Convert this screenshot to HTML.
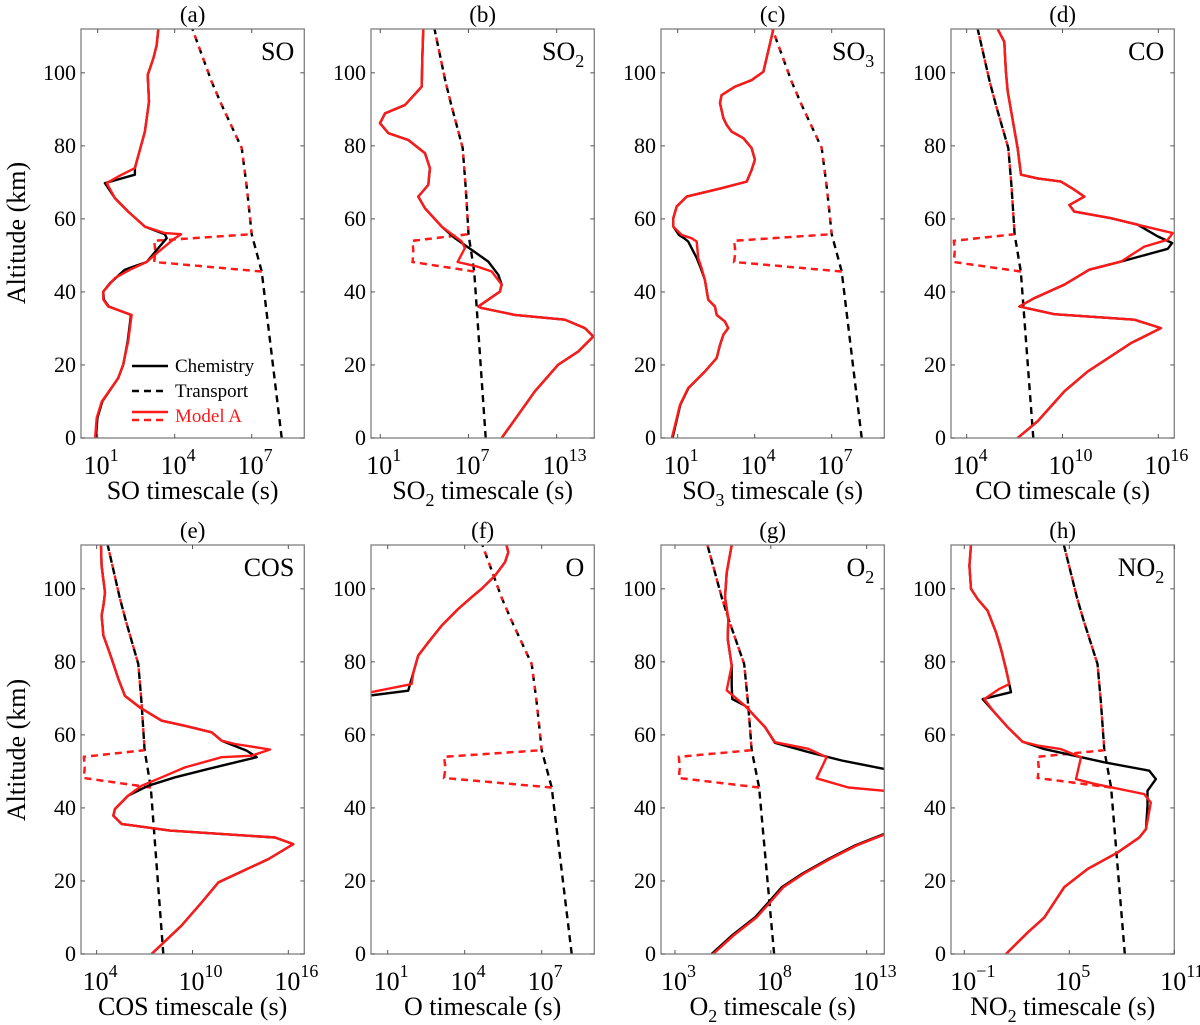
<!DOCTYPE html>
<html><head><meta charset="utf-8"><style>
body{margin:0;background:#fff}
svg{display:block;font-family:"Liberation Serif",serif}
</style></head><body>
<svg id="fig" width="1200" height="1025" viewBox="0 0 1200 1025" xmlns="http://www.w3.org/2000/svg"></svg>
<script>
// shared transport profiles (log10 s)
const tAlt=[0,45.6,55.8,64.8,69.3,79.4,91.2,97.6,112];
const tLog=[8.17,7.39,7.0,6.87,6.80,6.61,5.83,5.44,4.69];
const mtAlt=[45.6,48.2,51,54,55.8,64.8,69.3,79.4,91.2,97.6,112];
const mtLog=[7.39,3.2,3.25,3.2,7.0,6.87,6.80,6.61,5.83,5.44,4.69];

const aModAlt=[0,5.5,10,16.4,20.1,26.5,33.7,36,37.9,40.1,43.8,46.1,48.2,50.2,54.7,55.8,56.1,57.9,62,65.7,69.8,71.6,73.9,83.9,92.1,99.4,104,107.6,112];
const aModLog=[0.90,0.96,1.16,1.80,1.99,2.19,2.32,1.41,1.22,1.22,1.67,2.26,2.91,3.23,4.01,4.25,3.62,2.84,2.19,1.67,1.35,1.80,2.45,2.84,3.0,2.95,3.17,3.30,3.36];
const aChemAlt=[0,5.5,10,16.4,20.1,26.5,33.7,36,37.9,40.1,42.4,46.1,48.2,52,54.7,55.8,57.9,62,65.7,69.8,72.1,73.9,83.9,92.1,99.4,104,107.6,112];
const aChemLog=[0.93,0.99,1.18,1.80,2.0,2.17,2.30,1.43,1.24,1.22,1.48,2.06,2.91,3.36,3.69,3.62,2.84,2.19,1.67,1.28,2.45,2.45,2.84,3.0,2.95,3.17,3.30,3.36];

const bModAlt=[0,12.8,20.1,23.7,27.8,30.1,32.4,33.7,35.6,36,37.9,40.1,42,45.6,47,48.2,52,53.8,57.9,62.9,66.1,69.3,73.9,78,81.6,83.5,86.2,88.9,91.2,96.2,104,112];
const bModLog=[9.26,11.52,13.11,14.47,15.49,14.92,13.56,10.16,7.90,7.67,8.35,9.14,9.26,8.58,7.56,6.26,6.76,6.54,5.18,4.04,3.59,4.27,4.38,4.04,2.91,1.55,0.98,1.32,2.68,3.82,3.86,3.93];
const bChemAlt=[0,12.8,20.1,23.7,27.8,30.1,32.4,33.7,35.6,36,37.9,40.1,42,44.7,48.3,51.5,54.7,57.9,62.9,66.1,69.3,73.9,78,81.6,83.5,86.2,88.9,91.2,96.2,104,112];
const bChemLog=[9.26,11.52,13.11,14.47,15.49,14.92,13.56,10.16,7.90,7.67,8.35,9.14,9.26,9.03,8.35,7.22,6.08,5.18,4.04,3.59,4.27,4.38,4.04,2.91,1.55,0.98,1.32,2.68,3.82,3.86,3.93];

const cModAlt=[0,3.6,9.1,13.7,18.2,21.9,25.5,28.3,30.1,31.9,33.7,36,37.9,43.3,46.5,49.3,53.8,54.7,55.6,57.9,60.2,63.4,66.1,68.4,70.2,73.4,76.2,79.4,82.1,83.9,85.7,87.6,91.7,93.9,96.2,98,100.3,112];
const cModLog=[0.77,0.90,1.09,1.41,2.06,2.52,2.65,2.78,2.97,2.84,2.52,2.45,2.19,2.06,1.93,1.80,1.74,1.54,1.16,0.83,0.83,0.96,1.35,2.71,3.69,3.88,4.01,3.88,3.56,3.10,2.91,2.78,2.65,2.71,3.23,3.88,4.34,4.73];
const cChemAlt=cModAlt;
const cChemLog=[0.80,0.92,1.10,1.42,2.06,2.52,2.65,2.78,2.97,2.84,2.52,2.45,2.19,2.06,1.90,1.74,1.41,1.25,1.05,0.83,0.83,0.96,1.35,2.71,3.69,3.88,4.01,3.88,3.56,3.10,2.91,2.78,2.65,2.71,3.23,3.88,4.34,4.73];

const dModAlt=[0,4.6,12.8,18.2,26,30.1,32.4,33.9,36,38.3,42,46.1,48.3,52.4,54.3,56.1,58.4,60.2,62,63.8,66.1,68,70.2,71.1,72.1,79.4,94.9,100.3,108.5,112];
const dModLog=[7.19,8.45,10.12,11.58,14.29,16.17,14.5,9.49,7.30,8.24,10.12,11.68,13.66,15.12,16.59,16.9,14.71,13.04,10.74,10.43,11.37,10.74,9.91,8.45,7.40,7.19,6.57,6.46,6.36,5.94];
const dChemAlt=[0,4.6,12.8,18.2,26,30.1,32.4,33.9,36,38.3,42,46.1,48.3,51.8,53.4,55.2,58.4,60.2,62,63.8,66.1,68,70.2,71.1,72.1,79.4,94.9,100.3,108.5,112];
const dChemLog=[7.19,8.45,10.12,11.58,14.29,16.17,14.5,9.49,7.30,8.24,10.12,11.68,13.66,16.59,16.86,15.96,14.71,13.04,10.74,10.43,11.37,10.74,9.91,8.45,7.40,7.19,6.57,6.46,6.36,5.94];

const eModAlt=[0,7.8,14.1,19.6,26,30.1,31.9,33.8,35.6,37.9,39.7,43.4,46.1,48.4,51.1,53.9,54.3,56,57.5,58.4,60.7,62.5,63.9,67.5,70.7,75.3,80.8,83.5,87.2,92.7,95.4,99,106.3,112];
const eModLog=[7.44,9.32,10.57,11.62,14.75,16.31,15.17,8.59,5.57,5.04,5.15,5.98,6.82,8.07,9.53,11.83,13.71,14.85,12.66,11.83,11.2,9.53,8.07,6.71,5.77,5.36,4.94,4.73,4.42,4.31,4.42,4.52,4.31,4.27];
const eChemAlt=[0,7.8,14.1,19.6,26,30.1,31.9,33.8,35.6,37.9,39.7,43.4,46.1,48.4,50.7,53.9,55.7,58.4,60.7,62.5,63.9,67.5,70.7,75.3,80.8,83.5,87.2,92.7,95.4,99,106.3,112];
const eChemLog=[7.44,9.32,10.57,11.62,14.75,16.31,15.17,8.59,5.57,5.04,5.15,5.98,7.24,8.91,10.99,14.02,13.39,11.83,11.2,9.53,8.07,6.71,5.77,5.36,4.94,4.73,4.42,4.31,4.42,4.52,4.31,4.27];

const fModAlt=[71.2,73.9,77.1,81.7,85.3,89.9,94.5,97.7,100,103.6,107.3,110,112];
const fModLog=[0.0,1.93,2.0,2.19,2.58,3.10,3.75,4.27,4.66,5.18,5.57,5.70,5.63];
const fChemAlt=[70.5,72.1,77.1,81.7,85.3,89.9,94.5,97.7,100,103.6,107.3,110,112];
const fChemLog=[0.0,1.80,2.0,2.19,2.58,3.10,3.75,4.27,4.66,5.18,5.57,5.70,5.63];

const gModAlt=[44.7,45.6,48.1,53.9,56.2,58,62.1,68,72.2,79,86.3,91.7,97.7,104.4,112];
const gModLog=[13.92,12.04,10.39,10.91,9.96,8.22,7.70,6.65,5.70,5.96,5.75,5.78,5.61,5.70,5.96];
const gChemAlt=[50.7,53,55.3,57.8,62.1,68,69.8,73.5,79,86.3,91.7,97.7,104.4,112];
const gChemLog=[13.92,11.7,9.96,8.22,7.70,6.65,5.99,5.96,5.96,5.75,5.78,5.61,5.70,5.96];
const gLowAlt=[0,5,10,14.1,18.3,21.9,26,29.7,32.9];
const gLowLog=[4.91,5.96,7.17,7.87,8.57,9.61,11.0,12.39,13.92];

const hModAlt=[0,5.9,10,18.3,23.3,27.8,31.9,34.2,41.5,43.8,46.6,47.9,53.9,56.1,57.1,58.1,62.1,66.2,69.8,72.6,73.9,78,83.5,88.1,94,97.2,100,106.3,112];
const hModLog=[1.38,2.62,3.57,4.71,6.05,7.76,9.0,9.38,9.66,9.28,6.43,5.38,5.67,4.52,3.19,2.33,1.48,0.72,0.14,1.0,1.57,1.38,1.10,0.81,0.33,-0.24,-0.62,-0.71,-0.62];
const hChemAlt=[0,5.9,10,18.3,23.3,27.8,31.9,34.2,40.6,44.7,47.9,50.2,52.5,56.1,58.1,62.1,66.2,69.8,71.7,73.9,78,83.5,88.1,94,97.2,100,106.3,112];
const hChemLog=[1.38,2.62,3.57,4.71,6.05,7.76,9.0,9.38,9.47,9.47,9.95,9.57,7.0,3.57,2.33,1.48,0.72,0.05,1.67,1.57,1.38,1.10,0.81,0.33,-0.24,-0.62,-0.71,-0.62];

const yTicks=[0,20,40,60,80,100];

const NS="http://www.w3.org/2000/svg";
const svg=document.getElementById('fig');
function mk(tag,attrs,parent){const e=document.createElementNS(NS,tag);for(const k in attrs)e.setAttribute(k,attrs[k]);(parent||svg).appendChild(e);return e;}

const W=223.3,H=409;
const panels=[
 {id:'a',L:81,T:29,lo:0.35,hi:9.05,ticks:[1,4,7],sp:['SO',''],xl:'SO',chem:[aChemAlt,aChemLog],mod:[aModAlt,aModLog]},
 {id:'b',L:371,T:29,lo:0.37,hi:15.56,ticks:[1,7,13],sp:['SO','2'],xl:'SO',chem:[bChemAlt,bChemLog],mod:[bModAlt,bModLog]},
 {id:'c',L:661,T:29,lo:0.35,hi:9.05,ticks:[1,4,7],sp:['SO','3'],xl:'SO',chem:[cChemAlt,cChemLog],mod:[cModAlt,cModLog]},
 {id:'d',L:951,T:29,lo:3.02,hi:17.0,ticks:[4,10,16],sp:['CO',''],xl:'CO',chem:[dChemAlt,dChemLog],mod:[dModAlt,dModLog]},
 {id:'e',L:81,T:545,lo:3.02,hi:17.0,ticks:[4,10,16],sp:['COS',''],xl:'COS',chem:[eChemAlt,eChemLog],mod:[eModAlt,eModLog]},
 {id:'f',L:371,T:545,lo:0.35,hi:9.05,ticks:[1,4,7],sp:['O',''],xl:'O',chem:[fChemAlt,fChemLog],mod:[fModAlt,fModLog]},
 {id:'g',L:661,T:545,lo:2.27,hi:13.92,ticks:[3,8,13],sp:['O','2'],xl:'O',chem:[gChemAlt,gChemLog],mod:[gModAlt,gModLog],low:[gLowAlt,gLowLog]},
 {id:'h',L:951,T:545,lo:-1.76,hi:11.0,ticks:[-1,5,11],sp:['NO','2'],xl:'NO',chem:[hChemAlt,hChemLog],mod:[hModAlt,hModLog]}
];

panels.forEach(p=>{
 const g=mk('g',{});
 
 
 const X=v=>p.L+(v-p.lo)/(p.hi-p.lo)*W;
 const Y=a=>p.T+H-a/112*H;
 const cp=mk('clipPath',{id:'clip-'+p.id},g);
 mk('rect',{x:p.L,y:p.T,width:W,height:H},cp);
 const plot=mk('g',{'clip-path':'url(#clip-'+p.id+')'},g);
 const pts=(al,lg)=>al.map((a,i)=>X(lg[i]).toFixed(1)+','+Y(a).toFixed(1)).join(' ');
 let l=mk('polyline',{points:pts(tAlt,tLog),fill:'none',stroke:'#000','stroke-width':2.4,'stroke-dasharray':'7,5'},plot);
 
 
 l=mk('polyline',{points:pts(mtAlt,mtLog),fill:'none',stroke:'#ff1a1a','stroke-width':2.4,'stroke-dasharray':'4,8','stroke-dashoffset':'0'},plot);
 
 
 l=mk('polyline',{points:pts(mtAlt.slice(0,5),mtLog.slice(0,5)),fill:'none',stroke:'#ff1a1a','stroke-width':2.4,'stroke-dasharray':'7,5'},plot);
 
 
 l=mk('polyline',{points:pts(p.chem[0],p.chem[1]),fill:'none',stroke:'#000','stroke-width':2.4,'stroke-linejoin':'round'},plot);
 
 
 if(p.low){
  l=mk('polyline',{points:pts(p.low[0],p.low[1]),fill:'none',stroke:'#000','stroke-width':2.4},plot);
  
  
 }
 l=mk('polyline',{points:pts(p.mod[0],p.mod[1]),fill:'none',stroke:'#ff1a1a','stroke-width':2.4,'stroke-linejoin':'round'},plot);
 
 
 if(p.low){
  l=mk('polyline',{points:pts(p.low[0],p.low[1].map(v=>v+0.08)),fill:'none',stroke:'#ff1a1a','stroke-width':2.4},plot);
  
  
 }
 const fr=mk('rect',{x:p.L,y:p.T,width:W,height:H,fill:'none',stroke:'#808080','stroke-width':1.3},g);
 
 
 yTicks.forEach(v=>{
  const y=Y(v);
  mk('line',{x1:p.L,x2:p.L+4,y1:y,y2:y,stroke:'#555','stroke-width':1},g);
  mk('line',{x1:p.L+W-4,x2:p.L+W,y1:y,y2:y,stroke:'#555','stroke-width':1},g);
  const t=mk('text',{x:p.L-5,y:y+7,'text-anchor':'end','font-size':22},g);
  t.textContent=v;
  
  
 });
 p.ticks.forEach(k=>{
  const x=X(k);
  mk('line',{x1:x,x2:x,y1:p.T+H,y2:p.T+H-4,stroke:'#555','stroke-width':1},g);
  mk('line',{x1:x,x2:x,y1:p.T,y2:p.T+4,stroke:'#555','stroke-width':1},g);
  const t=mk('text',{x:x-14,y:p.T+H+36,'font-size':26},g);
  
  
  t.textContent='10';
  const s=mk('tspan',{dy:-13,'font-size':18},t);
  s.textContent=(k<0?'\u2212'+(-k):String(k));
 });
 const tt=mk('text',{x:p.L+W/2,y:p.T-7,'text-anchor':'middle','font-size':23},g);
 tt.textContent='('+p.id+')';
 
 
 const sl=mk('text',{x:p.L+W-10,y:p.T+31,'text-anchor':'end','font-size':26},g);
 
 
 sl.textContent=p.sp[0];
 if(p.sp[1]){const s=mk('tspan',{dy:7,'font-size':18},sl);s.textContent=p.sp[1];}
 const xt=mk('text',{x:p.L+W/2,y:p.T+H+61,'text-anchor':'middle','font-size':26},g);
 
 
 xt.textContent=p.xl;
 if(p.sp[1]){const s=mk('tspan',{dy:7,'font-size':18},xt);s.textContent=p.sp[1];const r=mk('tspan',{dy:-7},xt);r.textContent=' timescale (s)';}
 else{xt.textContent=p.xl+' timescale (s)';}
});

[[233],[750]].forEach(([cy],i)=>{
 const t=mk('text',{x:0,y:0,'text-anchor':'middle','font-size':26,transform:'translate(25,'+cy+') rotate(-90)'});
 t.textContent='Altitude (km)';
 
 
});

const lg=mk('g',{});


mk('line',{x1:132,x2:168,y1:366,y2:366,stroke:'#000','stroke-width':2.4},lg);
mk('line',{x1:132,x2:168,y1:391,y2:391,stroke:'#000','stroke-width':2.4,'stroke-dasharray':'7,5'},lg);
mk('line',{x1:132,x2:168,y1:412,y2:412,stroke:'#ff1a1a','stroke-width':2.4},lg);
mk('line',{x1:132,x2:168,y1:420,y2:420,stroke:'#ff1a1a','stroke-width':2.4,'stroke-dasharray':'7,5'},lg);
[['Chemistry',372,'#000'],['Transport',397,'#000'],['Model A',422,'#ff1a1a']].forEach(([s,y,c])=>{
 const t=mk('text',{x:175,y:y,'font-size':19,fill:c},lg);
 t.textContent=s;
 
 
});
</script>
</body></html>
